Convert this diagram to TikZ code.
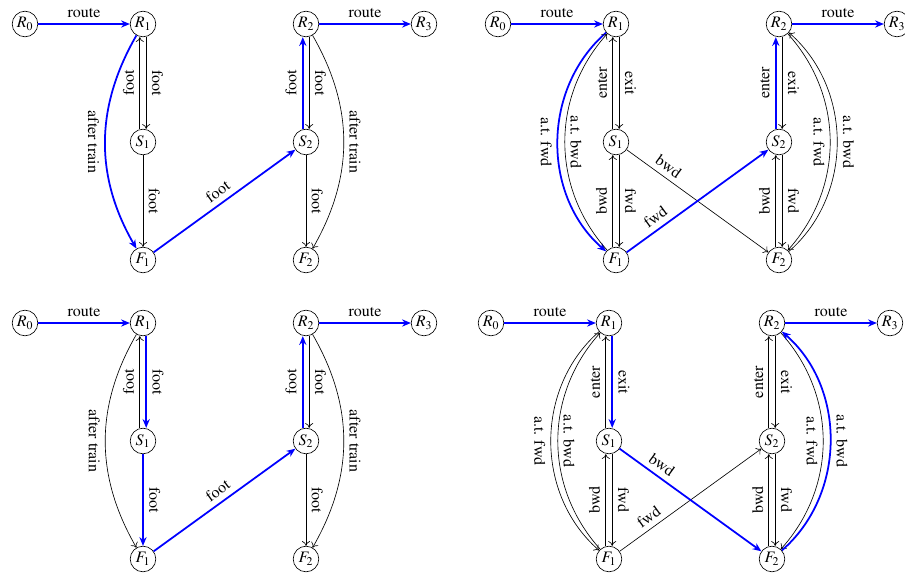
\documentclass[tikz,border=0pt]{standalone}
\usepackage[T1]{fontenc}
\usepackage{mathptmx}
\usetikzlibrary{arrows.meta}

\begin{document}
\begin{tikzpicture}[x=0.625pt,y=-0.625pt,
  stn/.style={draw,circle,minimum size=16pt,inner sep=1pt},
  ed/.style={->,>={To[length=3pt,width=5pt]}},
  hlline/.style={blue,line width=1.1pt},
  hl/.style={hlline,-{Stealth[length=5.5pt,width=4.5pt]}},
  hlback/.style={hlline,{Stealth[length=5.5pt,width=4.5pt]}-},
  lbl/.style={sloped,above,text=black}]
\useasboundingbox (0,0) rectangle (905,573);

% stations of the four graphs
\foreach \p/\dx/\dy in {a/25/24,b/498/24,c/25/323,d/491/323}{
  \begin{scope}[shift={(\dx,\dy)}]
  \node[stn] (\p R0) at (0,0)     {$R_0$};
  \node[stn] (\p R1) at (118,0)   {$R_1$};
  \node[stn] (\p S1) at (118,118) {$S_1$};
  \node[stn] (\p F1) at (118,236) {$F_1$};
  \node[stn] (\p R2) at (281,0)   {$R_2$};
  \node[stn] (\p S2) at (281,118) {$S_2$};
  \node[stn] (\p F2) at (281,236) {$F_2$};
  \node[stn] (\p R3) at (399,0)   {$R_3$};
  \end{scope}
}

% top left
\draw[hl] (aR0) -- node[lbl]{route} (aR1);
\draw[ed] ([xshift=-2pt]aS1.north) -- node[lbl]{foot} ([xshift=-2pt]aR1.south);
\draw[ed] ([xshift=2pt]aR1.south)  -- node[lbl]{foot} ([xshift=2pt]aS1.north);
\draw[ed] (aS1) -- node[lbl]{foot} (aF1);
\draw[hl] (aR1) to[bend right=30] node[lbl,below]{after train} (aF1);
\draw[hl] (aF1) -- node[lbl]{foot} (aS2);
\draw[hl] ([xshift=-2pt]aS2.north) -- node[lbl]{foot} ([xshift=-2pt]aR2.south);
\draw[ed] ([xshift=2pt]aR2.south)  -- node[lbl]{foot} ([xshift=2pt]aS2.north);
\draw[ed] (aS2) -- node[lbl]{foot} (aF2);
\draw[ed] (aR2) to[bend left=30] node[lbl]{after train} (aF2);
\draw[hl] (aR2) -- node[lbl]{route} (aR3);

% top right
\draw[hl] (bR0) -- node[lbl]{route} (bR1);
\draw[ed] ([xshift=-2pt]bS1.north) -- node[lbl]{enter} ([xshift=-2pt]bR1.south);
\draw[ed] ([xshift=2pt]bR1.south)  -- node[lbl]{exit} ([xshift=2pt]bS1.north);
\draw[ed] ([xshift=-2pt]bF1.north) -- node[lbl]{bwd} ([xshift=-2pt]bS1.south);
\draw[ed] ([xshift=2pt]bS1.south)  -- node[lbl]{fwd} ([xshift=2pt]bF1.north);
\draw[hl] (bR1) to[bend right=49] node[lbl,below]{a.t. fwd} (bF1);
\draw[ed,<-] (bR1) to[bend right=42] node[lbl]{a.t. bwd} (bF1);
\draw[ed] (bS1) -- node[lbl,near start]{bwd} (bF2);
\draw[hl] (bF1) -- node[lbl,near start]{fwd} (bS2);
\draw[hl] ([xshift=-2pt]bS2.north) -- node[lbl]{enter} ([xshift=-2pt]bR2.south);
\draw[ed] ([xshift=2pt]bR2.south)  -- node[lbl]{exit} ([xshift=2pt]bS2.north);
\draw[ed] ([xshift=-2pt]bF2.north) -- node[lbl]{bwd} ([xshift=-2pt]bS2.south);
\draw[ed] ([xshift=2pt]bS2.south)  -- node[lbl]{fwd} ([xshift=2pt]bF2.north);
\draw[ed] (bR2) to[bend left=42] node[lbl,below]{a.t. fwd} (bF2);
\draw[ed,<-] (bR2) to[bend left=49] node[lbl]{a.t. bwd} (bF2);
\draw[hl] (bR2) -- node[lbl]{route} (bR3);

% bottom left
\draw[hl] (cR0) -- node[lbl]{route} (cR1);
\draw[ed] ([xshift=-2pt]cS1.north) -- node[lbl]{foot} ([xshift=-2pt]cR1.south);
\draw[hl] ([xshift=2pt]cR1.south)  -- node[lbl]{foot} ([xshift=2pt]cS1.north);
\draw[hl] (cS1) -- node[lbl]{foot} (cF1);
\draw[ed] (cR1) to[bend right=30] node[lbl,below]{after train} (cF1);
\draw[hl] (cF1) -- node[lbl]{foot} (cS2);
\draw[hl] ([xshift=-2pt]cS2.north) -- node[lbl]{foot} ([xshift=-2pt]cR2.south);
\draw[ed] ([xshift=2pt]cR2.south)  -- node[lbl]{foot} ([xshift=2pt]cS2.north);
\draw[ed] (cS2) -- node[lbl]{foot} (cF2);
\draw[ed] (cR2) to[bend left=30] node[lbl]{after train} (cF2);
\draw[hl] (cR2) -- node[lbl]{route} (cR3);

% bottom right
\draw[hl] (dR0) -- node[lbl]{route} (dR1);
\draw[ed] ([xshift=-2pt]dS1.north) -- node[lbl]{enter} ([xshift=-2pt]dR1.south);
\draw[hl] ([xshift=2pt]dR1.south)  -- node[lbl]{exit} ([xshift=2pt]dS1.north);
\draw[ed] ([xshift=-2pt]dF1.north) -- node[lbl]{bwd} ([xshift=-2pt]dS1.south);
\draw[ed] ([xshift=2pt]dS1.south)  -- node[lbl]{fwd} ([xshift=2pt]dF1.north);
\draw[ed] (dR1) to[bend right=49] node[lbl,below]{a.t. fwd} (dF1);
\draw[ed,<-] (dR1) to[bend right=42] node[lbl]{a.t. bwd} (dF1);
\draw[ed] (dF1) -- node[lbl,near start]{fwd} (dS2);
\draw[hl] (dS1) -- node[lbl,near start]{bwd} (dF2);
\draw[ed] ([xshift=-2pt]dS2.north) -- node[lbl]{enter} ([xshift=-2pt]dR2.south);
\draw[ed] ([xshift=2pt]dR2.south)  -- node[lbl]{exit} ([xshift=2pt]dS2.north);
\draw[ed] ([xshift=-2pt]dF2.north) -- node[lbl]{bwd} ([xshift=-2pt]dS2.south);
\draw[ed] ([xshift=2pt]dS2.south)  -- node[lbl]{fwd} ([xshift=2pt]dF2.north);
\draw[ed] (dR2) to[bend left=42] node[lbl,below]{a.t. fwd} (dF2);
\draw[hlback] (dR2) to[bend left=49] node[lbl]{a.t. bwd} (dF2);
\draw[hl] (dR2) -- node[lbl]{route} (dR3);
\end{tikzpicture}
\end{document}
